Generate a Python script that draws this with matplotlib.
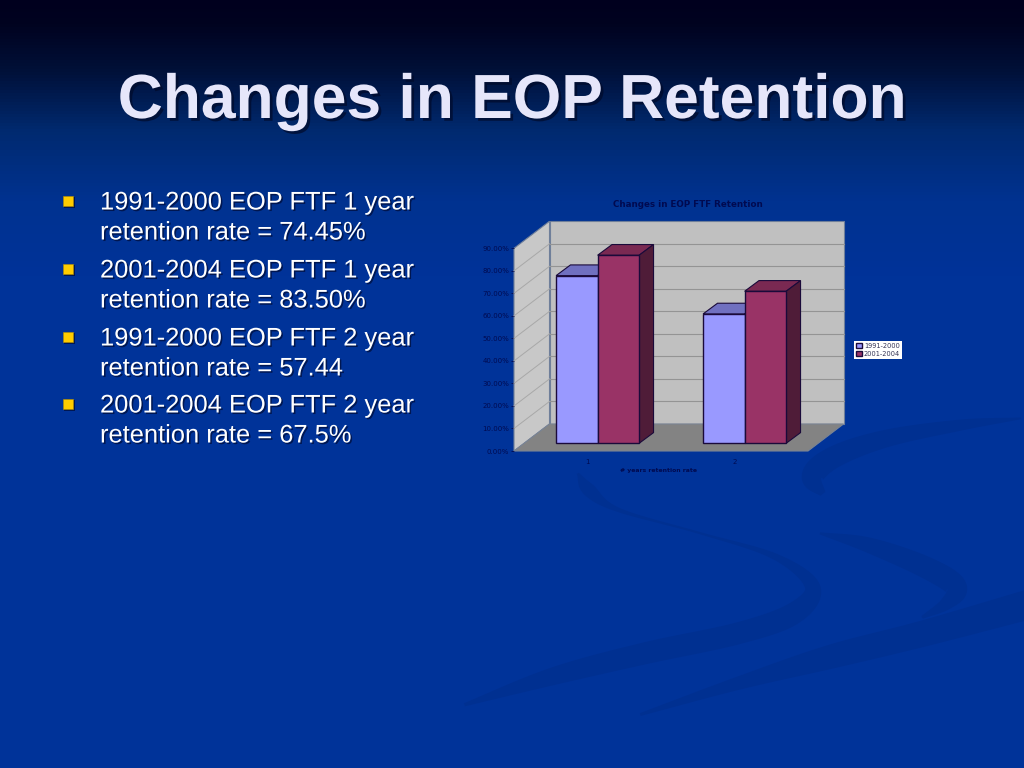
import numpy as np
import matplotlib
matplotlib.use('Agg')
import matplotlib.pyplot as plt
import matplotlib.patheffects as pe
from matplotlib.colors import LinearSegmentedColormap
from matplotlib.patches import Polygon

# ---- data ----
slide_title = "Changes in EOP Retention"
chart_title = "Changes in EOP FTF Retention"
x_title = "# years retention rate"
categories = ["1", "2"]
series_names = ["1991-2000", "2001-2004"]
series_1991_2000 = [74.45, 57.44]
series_2001_2004 = [83.50, 67.50]
y_ticks = [0, 10, 20, 30, 40, 50, 60, 70, 80, 90]
bullets = [
    ["1991-2000 EOP FTF 1 year", "retention rate = 74.45%"],
    ["2001-2004 EOP FTF 1 year", "retention rate = 83.50%"],
    ["1991-2000 EOP FTF 2 year", "retention rate = 57.44"],
    ["2001-2004 EOP FTF 2 year", "retention rate = 67.5%"],
]

W, H = 1024, 768
fig = plt.figure(figsize=(W / 100, H / 100), dpi=100)

# ---- slide background ----
bg = fig.add_axes([0, 0, 1, 1])
bg.set_xlim(0, W)
bg.set_ylim(H, 0)
bg.axis('off')
stops = [(0.0, '#00001e'), (0.03, '#000320'), (0.09, '#001038'), (0.17, '#002a70'),
         (0.26, '#003290'), (0.36, '#003399'), (1.0, '#003399')]
cmap = LinearSegmentedColormap.from_list('slide', stops)
bg.imshow(np.linspace(0, 1, 768)[:, None], cmap=cmap, aspect='auto',
          extent=(0, W, H, 0), vmin=0, vmax=1, zorder=0)
bg.set_xlim(0, W)
bg.set_ylim(H, 0)


def swoosh(points, color='#003091'):
    p = np.array(points, float)
    p = np.vstack([2 * p[0] - p[1], p, 2 * p[-1] - p[-2]])
    out = []
    for i in range(1, len(p) - 2):
        for t in np.linspace(0, 1, 16, endpoint=False):
            a, b, c, d = p[i - 1], p[i], p[i + 1], p[i + 2]
            out.append(0.5 * (2 * b + (c - a) * t + (2 * a - 5 * b + 4 * c - d) * t ** 2
                              + (3 * b - a - 3 * c + d) * t ** 3))
    out = np.array(out)
    xy = np.column_stack([440 + out[:, 0] / 2.685, 370 + out[:, 1] / 3])
    w = np.maximum(out[:, 2], 1) / 4.6
    g = np.gradient(xy, axis=0)
    n = np.column_stack([-g[:, 1], g[:, 0]]) / np.maximum(np.hypot(g[:, 0], g[:, 1]), 1e-6)[:, None]
    poly = np.vstack([xy + n * w[:, None], (xy - n * w[:, None])[::-1]])
    bg.add_patch(Polygon(poly, closed=True, fc=color, ec='none', zorder=1))


swoosh([(1560, 145, 4), (1400, 165, 25), (1200, 205, 40), (1060, 260, 50),
        (1000, 320, 50), (1030, 375, 12)])
swoosh([(1020, 490, 5), (1150, 525, 35), (1300, 590, 50), (1385, 650, 50),
        (1360, 700, 30), (1290, 745, 5)])
swoosh([(370, 310, 5), (400, 360, 30), (480, 420, 10), (700, 490, 5), (900, 560, 15),
        (1000, 650, 35), (950, 730, 50), (800, 790, 50), (550, 850, 50),
        (300, 920, 40), (50, 1010, 5)])
swoosh([(1640, 685, 70), (1300, 790, 60), (1050, 860, 55), (800, 940, 30), (520, 1040, 5)])

# ---- slide title and bullets ----
shadow = [pe.withSimplePatchShadow(offset=(2.0, -2.0), shadow_rgbFace='#000a2a', alpha=0.7)]
bg.text(512, 118, slide_title, ha='center', va='baseline', family='Liberation Sans',
        weight='bold', fontsize=44.9, color='#e6e6fa', path_effects=shadow, zorder=5)

text_shadow = [pe.withSimplePatchShadow(offset=(1.1, -1.1), shadow_rgbFace='#001040', alpha=0.8)]
baselines = [209.5, 277.5, 345.5, 412.5]
for lines, base in zip(bullets, baselines):
    bg.plot([68], [base - 8.5], marker='s', ms=7.6, mfc='#ffcc00', mec='#b89000', mew=0.4,
            zorder=5, path_effects=text_shadow)
    for k, line in enumerate(lines):
        bg.text(100, base + 30 * k, line, ha='left', va='baseline', family='Liberation Sans',
                fontsize=18.35, color='white', path_effects=text_shadow, zorder=5)

# ---- 3-D style chart ----
L, R, B, T = 514, 808, 451, 248.3
ax = fig.add_axes([L / W, 1 - B / H, (R - L) / W, (B - T) / H])
ax.patch.set_alpha(0)
ax.set_xlim(0, 2)
ax.set_ylim(0, 90)
for s in ax.spines.values():
    s.set_visible(False)

xs = np.arange(len(categories)) + 0.5
dep_x, dep_y = 0.2415, 12.0          # depth vector of the floor
off_x, off_y = 0.0688, 3.42          # front of the bars inside the floor
bar_dx, bar_dy = 0.098, 4.75         # depth of one bar
bw = 0.2825
ink = '#1a0a3a'
txt = '#000a50'
edge = '#6f7f9a'

ax.add_patch(Polygon([(dep_x, dep_y), (2 + dep_x, dep_y), (2 + dep_x, 90 + dep_y), (dep_x, 90 + dep_y)],
                     fc='#c0c0c0', ec=edge, lw=0.8, clip_on=False, zorder=1))
ax.add_patch(Polygon([(0, 0), (dep_x, dep_y), (dep_x, 90 + dep_y), (0, 90)],
                     fc='#c8c8c8', ec=edge, lw=0.8, clip_on=False, zorder=1))
ax.add_patch(Polygon([(0, 0), (2, 0), (2 + dep_x, dep_y), (dep_x, dep_y)],
                     fc='#838383', ec='#7a8494', lw=0.8, clip_on=False, zorder=1))
for v in y_ticks[1:-1]:
    ax.plot([dep_x, 2 + dep_x], [v + dep_y] * 2, color='#949494', lw=0.8, clip_on=False, zorder=2)
for v in y_ticks[1:-1]:
    ax.plot([0, dep_x], [v, v + dep_y], color='#a8a8a8', lw=0.7, clip_on=False, zorder=2)

bar_styles = [
    (series_1991_2000, -bw / 2, '#9999ff', '#7070c0', '#4d4d88'),
    (series_2001_2004, bw / 2, '#993366', '#7a2952', '#4f1c38'),
]
for i, (vals, shift, face, top_c, side_c) in enumerate(bar_styles):
    z = 3 + i
    for x, v in zip(xs + shift + off_x, vals):
        y1 = off_y + v
        ax.add_patch(Polygon([(x - bw / 2, y1), (x + bw / 2, y1), (x + bw / 2 + bar_dx, y1 + bar_dy),
                              (x - bw / 2 + bar_dx, y1 + bar_dy)],
                             fc=top_c, ec=ink, lw=0.8, clip_on=False, zorder=z))
        ax.add_patch(Polygon([(x + bw / 2, off_y), (x + bw / 2 + bar_dx, off_y + bar_dy),
                              (x + bw / 2 + bar_dx, y1 + bar_dy), (x + bw / 2, y1)],
                             fc=side_c, ec=ink, lw=0.8, clip_on=False, zorder=z))
    ax.bar(xs + shift + off_x, vals, bw, bottom=off_y, color=face, edgecolor=ink, lw=1.0,
           label=series_names[i], clip_on=False, zorder=z + 0.5)

ax.set_yticks(y_ticks)
ax.set_yticklabels([f"{v:.2f}%" for v in y_ticks])
ax.set_xticks(xs)
ax.set_xticklabels(categories)
ax.tick_params(axis='y', length=2, width=0.6, color=txt, labelcolor=txt, labelsize=5, pad=1.5)
ax.tick_params(axis='x', length=0, labelcolor=txt, labelsize=5, pad=6)
ax.set_xlabel(x_title, fontsize=4.4, weight='bold', color=txt, labelpad=1.8, x=(659 - L) / (R - L))
ax.set_title(chart_title, fontsize=6.35, weight='bold', color=txt, x=(688 - L) / (R - L), y=1.205, pad=0)

leg = ax.legend(loc='center left', bbox_to_anchor=((854 - L) / (R - L), (B - 350) / (B - T)),
                borderaxespad=0, frameon=True, fancybox=False, framealpha=1, facecolor='white',
                edgecolor='none', fontsize=4.75, labelcolor='#333355', handlelength=0.9, handleheight=0.9,
                handletextpad=0.3, labelspacing=0.3, borderpad=0.3)
leg.set_zorder(10)

fig.savefig('out.png', dpi=100)
